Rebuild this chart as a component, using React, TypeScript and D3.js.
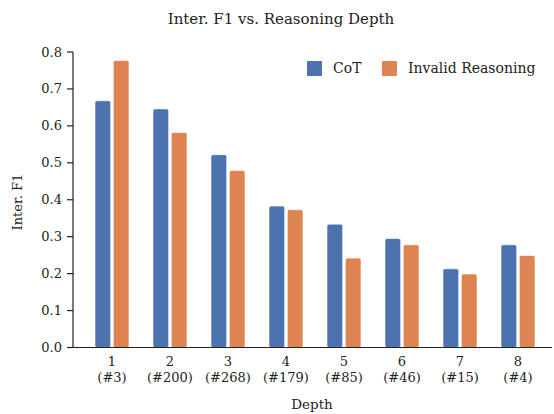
import React from 'react'
import * as d3 from 'd3'

const depths = ['1', '2', '3', '4', '5', '6', '7', '8']
const counts = ['(#3)', '(#200)', '(#268)', '(#179)', '(#85)', '(#46)', '(#15)', '(#4)']
const cotValues = [0.668, 0.646, 0.522, 0.383, 0.334, 0.295, 0.213, 0.278]
const invalidValues = [0.777, 0.582, 0.479, 0.373, 0.242, 0.278, 0.199, 0.249]
const yTicks = [0, 0.1, 0.2, 0.3, 0.4, 0.5, 0.6, 0.7, 0.8]

const W = 554
const H = 414
const FONT = '"DejaVu Serif", serif'
const BLUE = '#4C72B0'
const ORANGE = '#DD8452'

export default function App() {
  const x = d3.scaleLinear().domain([0.328, 8.586]).range([73, 552])
  const y = d3.scaleLinear().domain([0, 0.8]).range([347.5, 52])
  const barW = x(0.27) - x(0)
  const off = x(0.158) - x(0)

  const series = [
    { name: 'CoT', values: cotValues, color: BLUE, dx: -off },
    { name: 'Invalid Reasoning', values: invalidValues, color: ORANGE, dx: off },
  ]

  return (
    <svg width={W} height={H} style={{ position: 'absolute', left: 0, top: 0 }} fontFamily={FONT}>
      <rect width={W} height={H} fill="#fff" />
      <text x={281} y={24} textAnchor="middle" fontSize={15} fill="#222">
        Inter. F1 vs. Reasoning Depth
      </text>

      {series.map((s) =>
        s.values.map((v, i) => (
          <rect
            key={s.name + i}
            x={x(i + 1) + s.dx - barW / 2}
            y={y(v)}
            width={barW}
            height={y(0) - y(v)}
            rx={2}
            fill={s.color}
            stroke="#fff"
            strokeWidth={0.6}
          />
        ))
      )}

      {/* y axis */}
      <line x1={73} x2={73} y1={y(0.8)} y2={y(0)} stroke="#222" strokeWidth={1.2} />
      {yTicks.map((t) => (
        <g key={t}>
          <line x1={67} x2={73} y1={y(t)} y2={y(t)} stroke="#222" strokeWidth={1.2} />
          <text x={62} y={y(t)} dy="0.35em" textAnchor="end" fontSize={13} fill="#222">
            {t.toFixed(1)}
          </text>
        </g>
      ))}
      {/* x axis */}
      <line x1={67} x2={552} y1={y(0)} y2={y(0)} stroke="#222" strokeWidth={1.2} />
      {depths.map((d, i) => (
        <text key={d} x={x(i + 1)} textAnchor="middle" fontSize={13} fill="#222">
          <tspan x={x(i + 1)} y={366}>{d}</tspan>
          <tspan x={x(i + 1)} y={382}>{counts[i]}</tspan>
        </text>
      ))}

      <text x={312} y={409} textAnchor="middle" fontSize={13.5} fill="#222">Depth</text>
      <text transform="translate(22,202) rotate(-90)" textAnchor="middle" fontSize={13} fill="#222">
        Inter. F1
      </text>

      {/* legend */}
      {series.map((s, i) => {
        const lx = i === 0 ? 307 : 382
        return (
          <g key={s.name}>
            <rect x={lx} y={61} width={15} height={15} fill={s.color} rx={1} />
            <text x={lx + 26} y={68.5} dy="0.35em" fontSize={14} fill="#222">{s.name}</text>
          </g>
        )
      })}
    </svg>
  )
}
